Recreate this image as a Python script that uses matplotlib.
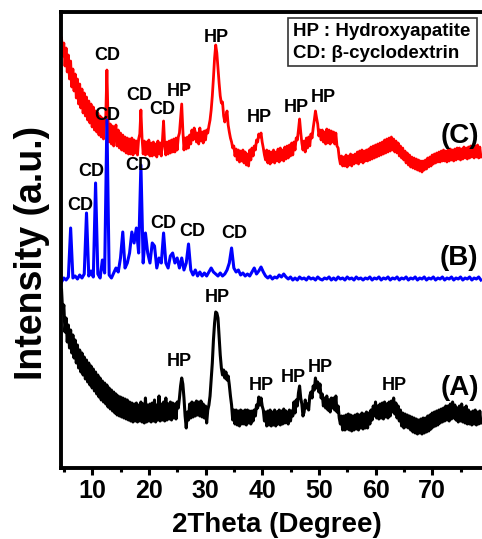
import numpy as np
import matplotlib
matplotlib.use("Agg")
import matplotlib.pyplot as plt
from matplotlib.ticker import FixedLocator
from matplotlib.patches import Rectangle

plt.rcParams['font.family'] = ['Liberation Sans', 'DejaVu Sans']
plt.rcParams['font.weight'] = 'bold'

# 2-theta grids (degrees)
two_theta_fine = np.round(np.arange(4.6, 78.61, 0.2), 1)    # for (A) and (C)
two_theta_coarse = np.round(np.arange(4.6, 78.61, 0.4), 1)  # for (B)

# (C) HP / beta-CD composite (red), offset intensity (a.u.), 0.2 deg steps
red_C = [
    430, 412, 425, 402, 420, 396, 413, 389, 407, 381,
    399, 377, 394, 370, 389, 364, 384, 360, 379, 355,
    375, 352, 371, 348, 367, 345, 364, 341, 361, 338,
    357, 336, 355, 333, 352, 331, 350, 329, 346, 352,
    398, 350, 326, 344, 324, 342, 322, 335, 343, 322,
    338, 320, 335, 318, 333, 317, 331, 315, 330, 314,
    329, 314, 330, 313, 328, 315, 327, 313, 329, 334,
    358, 330, 314, 327, 313, 326, 314, 328, 312, 325,
    312, 326, 313, 324, 311, 327, 314, 325, 312, 328,
    347, 322, 313, 326, 314, 327, 315, 328, 316, 329,
    316, 330, 318, 331, 335, 350, 364, 338, 318, 330,
    319, 331, 320, 333, 324, 338, 328, 340, 336, 326,
    335, 324, 340, 327, 336, 325, 337, 328, 338, 335,
    342, 348, 358, 372, 390, 410, 423, 415, 400, 385,
    372, 365, 366, 352, 346, 352, 357, 343, 336, 330,
    326, 320, 322, 312, 319, 308, 318, 306, 317, 307,
    318, 305, 316, 303, 314, 302, 318, 308, 320, 312,
    322, 318, 328, 326, 334, 331, 335, 326, 320, 313,
    308, 318, 305, 317, 304, 316, 306, 318, 305, 316,
    307, 319, 306, 320, 308, 318, 307, 321, 309, 322,
    310, 323, 312, 325, 313, 326, 318, 330, 328, 338,
    349, 336, 325, 318, 327, 316, 330, 320, 331, 322,
    334, 330, 340, 348, 357, 350, 344, 332, 338, 328,
    338, 326, 336, 324, 339, 325, 338, 324, 337, 326,
    336, 324, 335, 322, 320, 310, 304, 312, 302, 311,
    302, 313, 301, 312, 303, 314, 302, 313, 304, 314,
    305, 316, 304, 317, 306, 318, 305, 317, 307, 318,
    307, 319, 308, 321, 309, 322, 310, 323, 311, 324,
    312, 325, 313, 326, 314, 328, 315, 329, 316, 330,
    317, 331, 318, 329, 316, 327, 315, 325, 312, 322,
    310, 320, 308, 317, 305, 315, 303, 313, 301, 311,
    300, 310, 299, 309, 298, 308, 297, 307, 296, 307,
    298, 308, 299, 310, 301, 311, 302, 313, 304, 314,
    305, 315, 306, 316, 306, 317, 307, 318, 307, 317,
    306, 318, 307, 319, 308, 318, 307, 319, 308, 320,
    309, 320, 308, 319, 309, 321, 310, 320, 309, 321,
    310, 322, 311, 321, 310, 322, 311, 323, 310, 321,
    311,
]

# (B) beta-cyclodextrin (blue), 0.4 deg steps
blue_B = [
    186, 190, 188, 191, 240, 190, 192, 189, 193, 190,
    194, 255, 192, 197, 191, 285, 194, 190, 208, 195,
    348, 193, 190, 195, 200, 196, 210, 236, 200, 205,
    215, 236, 225, 240, 215, 303, 205, 235, 215, 205,
    225, 222, 200, 210, 205, 235, 205, 200, 212, 215,
    205, 210, 200, 210, 198, 205, 224, 198, 193, 198,
    192, 196, 192, 195, 192, 196, 200, 196, 194, 192,
    195, 192, 194, 198, 205, 220, 200, 196, 198, 193,
    195, 192, 194, 192, 196, 200, 194, 197, 201, 196,
    192, 190, 192, 189, 191, 190, 193, 191, 194, 191,
    189, 191, 188, 190, 188, 191, 189, 190, 188, 191,
    189, 190, 188, 191, 189, 188, 190, 189, 191, 188,
    190, 188, 191, 189, 190, 188, 191, 189, 190, 188,
    191, 189, 190, 188, 190, 189, 191, 188, 190, 189,
    191, 188, 190, 189, 191, 188, 190, 189, 191, 188,
    190, 189, 191, 188, 190, 189, 191, 188, 190, 189,
    191, 188, 190, 189, 191, 188, 190, 189, 191, 188,
    190, 189, 191, 188, 190, 189, 191, 188, 190, 189,
    191, 188, 190, 189, 191, 188,
]

# (A) hydroxyapatite (black), 0.2 deg steps
black_A = [
    178, 155, 163, 136, 150, 126, 143, 120, 138, 115,
    133, 110, 128, 105, 123, 100, 118, 96, 115, 93,
    111, 89, 108, 86, 105, 83, 102, 80, 99, 77,
    96, 74, 93, 71, 90, 68, 87, 66, 85, 64,
    83, 61, 80, 59, 78, 57, 76, 55, 74, 53,
    72, 52, 71, 51, 70, 50, 69, 49, 68, 48,
    66, 47, 65, 46, 64, 47, 65, 46, 63, 47,
    66, 46, 64, 45, 70, 46, 63, 47, 64, 46,
    65, 47, 68, 46, 63, 48, 72, 47, 64, 48,
    66, 47, 70, 48, 64, 49, 66, 48, 65, 50,
    64, 49, 66, 60, 70, 82, 90, 84, 70, 52,
    40, 56, 48, 64, 50, 66, 51, 65, 52, 67,
    53, 66, 52, 67, 51, 64, 50, 62, 45, 58,
    63, 72, 88, 105, 128, 145, 156, 155, 150, 132,
    113, 100, 93, 98, 90, 96, 88, 92, 83, 72,
    63, 48, 58, 44, 58, 43, 57, 42, 58, 44,
    57, 44, 58, 43, 58, 45, 57, 44, 57, 47,
    58, 52, 63, 60, 71, 63, 70, 62, 58, 47,
    56, 42, 57, 43, 58, 42, 56, 43, 58, 42,
    56, 44, 58, 43, 57, 44, 59, 45, 57, 46,
    44, 58, 47, 57, 52, 66, 55, 68, 62, 75,
    82, 70, 64, 52, 56, 68, 60, 64, 58, 72,
    76, 70, 82, 78, 90, 80, 86, 76, 84, 70,
    74, 62, 70, 60, 72, 58, 68, 56, 70, 60,
    70, 58, 72, 56, 62, 50, 44, 52, 38, 52,
    38, 53, 39, 54, 38, 53, 37, 52, 38, 53,
    39, 54, 38, 53, 40, 55, 39, 54, 40, 56,
    40, 55, 44, 58, 48, 62, 52, 66, 50, 62,
    49, 64, 50, 65, 49, 66, 51, 64, 50, 66,
    52, 67, 56, 70, 54, 65, 50, 62, 47, 58,
    42, 55, 40, 54, 41, 53, 40, 52, 38, 51,
    36, 50, 35, 49, 34, 48, 35, 49, 34, 50,
    35, 50, 36, 52, 37, 53, 39, 55, 41, 56,
    42, 57, 43, 58, 45, 59, 46, 60, 47, 62,
    48, 62, 47, 64, 49, 66, 50, 63, 48, 60,
    46, 62, 47, 64, 46, 60, 45, 62, 44, 58,
    44, 56, 43, 57, 44, 58, 43, 56, 44, 57,
    45,
]

# peak annotations: (text, 2theta, intensity)
labels_C = [("CD", 12.65, 413), ("HP", 31.9, 431), ("CD", 18.3, 372),
            ("HP", 25.35, 376), ("CD", 22.35, 358), ("HP", 39.5, 350),
            ("HP", 46.0, 360), ("HP", 50.75, 370)]
labels_B = [("CD", 12.65, 352), ("CD", 9.8, 296), ("CD", 18.1, 302),
            ("CD", 7.9, 263), ("CD", 22.5, 245), ("CD", 27.65, 236),
            ("CD", 35.05, 235)]
labels_A = [("HP", 32.05, 171), ("HP", 25.35, 106), ("HP", 39.8, 83),
            ("HP", 45.45, 90), ("HP", 50.2, 101), ("HP", 63.3, 83)]
curve_names = [("(C)", 74.9, 332), ("(B)", 74.75, 210), ("(A)", 74.9, 80)]
major_ticks = [10, 20, 30, 40, 50, 60, 70]
minor_ticks = [5, 15, 25, 35, 45, 55, 65, 75]

W, H = 482, 539
fig = plt.figure(figsize=(W / 100, H / 100), dpi=100)
xmin, xmax = 4.5, 80.0
ppd = 5.667
ax_w = (xmax - xmin) * ppd / W
ax = fig.add_axes([61 / W, 71 / H, ax_w, 456 / H])

ax.plot(two_theta_fine, red_C, color='#ff0000', lw=2.0)
ax.plot(two_theta_coarse, blue_B, color='#0000ff', lw=2.2)
ax.plot(two_theta_fine, black_A, color='black', lw=2.2)

ax.set_xlim(xmin, xmax)
ax.set_ylim(0, 456)

for lab_list in (labels_C, labels_B, labels_A):
    for t, xx, yy in lab_list:
        ax.text(xx, yy, t, ha='center', va='center', fontsize=13,
                fontweight='bold', color='black')
for t, xx, yy in curve_names:
    ax.text(xx, yy, t, ha='center', va='center', fontsize=20,
            fontweight='bold', color='black')

# legend box
fig.patches.append(Rectangle((288 / W, 1 - 66 / H), (477 - 288) / W, 48 / H,
                             transform=fig.transFigure, fill=False,
                             edgecolor='#333333', lw=1.2))
fig.text(293 / W, 1 - 32 / H, "HP : Hydroxyapatite", ha='left', va='center',
         fontsize=13.5, fontweight='bold')
fig.text(293 / W, 1 - 53 / H, "CD: β-cyclodextrin", ha='left', va='center',
         fontsize=13.5, fontweight='bold')

for s in ax.spines.values():
    s.set_linewidth(2.8)

ax.xaxis.set_major_locator(FixedLocator(major_ticks))
ax.xaxis.set_minor_locator(FixedLocator(minor_ticks))
ax.tick_params(axis='x', which='major', direction='out', length=5, width=2.2,
               labelsize=18, pad=3)
ax.tick_params(axis='x', which='minor', direction='out', length=3, width=2.2)
for lbl in ax.get_xticklabels():
    lbl.set_fontweight('bold')
ax.set_yticks([])

fig.text(277 / W, 1 - 525 / H, "2Theta (Degree)", ha='center', va='center',
         fontsize=20, fontweight='bold')
fig.text(32 / W, 1 - 253 / H, "Intensity (a.u.)", ha='center', va='center',
         rotation=90, fontsize=27, fontweight='bold')

fig.savefig("out.png", dpi=100)
